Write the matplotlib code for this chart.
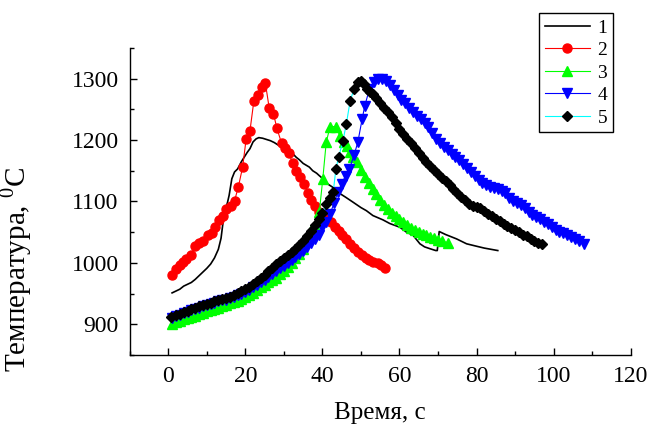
import matplotlib.pyplot as plt
from matplotlib.ticker import MultipleLocator

plt.rcParams['font.family'] = ['Liberation Serif', 'DejaVu Serif']
plt.rcParams['mathtext.fontset'] = 'custom'
plt.rcParams['mathtext.rm'] = 'Liberation Serif'

# кривая 1 - сплошная линия
t1 = [1, 2, 3, 4, 5, 6, 7, 8, 9, 10, 11, 12, 13, 13.7, 14.2, 14.8, 15.4, 15.8,
      16.5, 17.2, 18, 19, 19.7, 20.5, 21.2, 22, 22.8, 23.5, 24.5, 25.5, 26.5,
      27.5, 28.5, 29.7, 31, 32.3, 33.2, 34, 35, 36.6, 37.5, 38.5, 39.2, 40.5,
      41.5, 42.7, 44.5, 46, 47.9, 50, 51.4, 53.1, 55.7, 57.5, 60.1, 61.8,
      63.5, 65.3, 66.5, 67.9, 69.4, 69.8, 70.3, 72, 74.8, 77.4, 80, 82, 85.5]
T1 = [951, 954, 957, 962, 965, 968, 973, 979, 985, 991, 998, 1008, 1022, 1040,
      1065, 1085, 1099, 1110, 1137, 1148, 1153, 1165, 1172, 1180, 1186, 1197,
      1202, 1204, 1203, 1201, 1199, 1196, 1192, 1188, 1183, 1178, 1172, 1168,
      1162, 1156, 1150, 1146, 1142, 1135, 1128, 1123, 1113, 1107, 1099, 1090,
      1085, 1077, 1070, 1064, 1058, 1050, 1045, 1031, 1026, 1023, 1020, 1020,
      1051, 1046, 1039, 1031, 1027, 1024, 1020]

# кривая 2
t2 = [1.0, 1.9, 3.0, 3.8, 4.7, 5.8, 7.0, 8.0, 9.0, 10.2, 11.3, 12.2, 13.2,
      14.1, 15.0, 16.2, 17.2, 18.2, 19.3, 20.2, 21.2, 22.2, 23.2, 24.2, 25.2,
      26.2, 27.3, 28.2, 29.4, 30.3, 31.3, 32.3, 33.2, 34.3, 35.3, 36.3, 37.1,
      38.2, 39.2, 40.2, 41.2, 42.2, 43.2, 44.2, 45.2, 46.2, 47.2, 48.2, 49.2,
      50.2, 51.2, 52.2, 53.2, 54.3, 55.3, 56.3]
T2 = [980, 990, 997, 1002, 1007, 1012, 1028, 1033, 1036, 1046, 1048, 1058,
      1069, 1077, 1088, 1093, 1101, 1124, 1156, 1201, 1215, 1263, 1274, 1286,
      1293, 1252, 1243, 1219, 1195, 1187, 1179, 1162, 1149, 1140, 1129, 1113,
      1102, 1093, 1083, 1078, 1072, 1066, 1058, 1052, 1045, 1038, 1031, 1024,
      1017, 1012, 1008, 1004, 1001, 999, 996, 992]

# кривая 3
t3 = [1, 2, 3, 4, 5, 6, 7, 8, 9, 10, 11, 12, 13, 14, 15, 16, 17, 18, 19, 20,
      21, 22, 23, 24, 25, 26, 27, 28, 29, 30, 31, 32, 33, 34, 35, 36, 37, 38,
      39.2, 40.1, 41, 42, 43.5, 44.5, 45.5, 46.3, 47.2, 48, 49, 50, 51, 52, 53,
      54, 55, 56, 57, 58, 59, 60, 61, 62, 63, 64, 65, 66, 67, 68, 69, 70, 71,
      72.5]
T3 = [900, 903, 906, 908, 910, 912, 914, 916, 918, 921, 923, 925, 927, 930,
      932, 934, 936, 938, 941, 944, 947, 951, 955, 960, 964, 968, 972, 976, 981,
      987, 993, 1000, 1008, 1015, 1023, 1035, 1053, 1060, 1083, 1137, 1197,
      1222, 1222, 1207, 1197, 1190, 1180, 1173, 1164, 1152, 1140, 1130, 1121,
      1112, 1103, 1095, 1088, 1081, 1076, 1071, 1066, 1062, 1057, 1053, 1050,
      1047, 1045, 1042, 1040, 1037, 1035, 1033]

# кривая 4
t4 = [1, 2, 3, 4, 5, 6, 7, 8, 9, 10, 11, 12, 13, 14, 15, 16, 17, 18, 19, 20,
      21, 22, 23, 24, 25, 26, 27, 28, 29, 30, 31, 32, 33, 34, 35, 36, 37, 38,
      39, 40, 41, 42, 43, 44, 45, 46, 47, 48.2, 49.2, 50.3, 51, 52.2, 53.4,
      54.5, 55.5, 56.5, 57.5, 58.5, 59.5, 60.5, 61.5, 62.5, 63.5, 64.5, 65.5,
      66.5, 67.5, 68.5, 69.5, 70.5, 71.5, 72.5, 73.5, 74.5, 75.5, 76.5, 77.5,
      78.5, 79.5, 80.5, 81.5, 82.5, 83.5, 84.5, 85.5, 86.5, 87.5, 88.5, 89.5,
      90.5, 91.5, 92.5, 93.5, 94.5, 95.5, 96.5, 97.5, 98.5, 99.5, 100.5, 101.5,
      102.5, 103.5, 104.5, 105.5, 106.5, 107.8]
T4 = [910, 913, 915, 918, 920, 923, 925, 927, 929, 931, 933, 935, 937, 939,
      940, 942, 944, 947, 950, 953, 956, 960, 964, 968, 972, 977, 982, 987, 991,
      995, 999, 1004, 1009, 1014, 1020, 1025, 1032, 1038, 1046, 1058, 1066,
      1080, 1097, 1115, 1129, 1142, 1153, 1175, 1197, 1234, 1256, 1283, 1294,
      1300, 1300, 1296, 1289, 1281, 1274, 1266, 1260, 1253, 1246, 1240, 1234,
      1228, 1221, 1211, 1202, 1195, 1189, 1184, 1178, 1173, 1167, 1161, 1155,
      1148, 1141, 1135, 1130, 1126, 1124, 1122, 1120, 1117, 1113, 1106, 1100,
      1097, 1095, 1090, 1083, 1078, 1074, 1071, 1067, 1063, 1058, 1054, 1051,
      1048, 1045, 1042, 1038, 1035, 1030]

# кривая 5
t5 = [0.7, 2, 3, 4, 5, 6, 7, 8, 9, 10, 11, 12, 13, 14, 15, 16, 17, 18, 19, 20,
      21, 22, 23, 24, 25, 26, 27, 28, 29, 30, 31, 32, 33, 34, 35, 36, 37, 38,
      39, 40, 41, 42, 42.8, 43.5, 44.2, 45.3, 46.2, 47.2, 48.2, 49.2, 50,
      50.8, 51.6, 52.4, 53, 54, 55, 56, 57, 58, 59, 60, 61, 62, 63, 64, 65, 66,
      67, 68, 69, 70, 71, 72, 73, 74, 75, 76, 77, 78, 79, 80, 81, 82, 83, 84,
      85, 86, 87, 88, 89, 90, 91, 92, 93, 94, 95, 96, 97]
T5 = [912, 915, 917, 920, 922, 925, 927, 929, 931, 933, 935, 937, 939, 941,
      943, 945, 948, 951, 954, 957, 961, 966, 971, 975, 980, 986, 992, 998,
      1003, 1008, 1013, 1018, 1023, 1029, 1036, 1043, 1052, 1062, 1072, 1081,
      1096, 1105, 1115, 1153, 1172, 1198, 1226, 1264, 1283, 1294, 1296, 1292,
      1284, 1278, 1275, 1268, 1260, 1252, 1245, 1237, 1228, 1218, 1210, 1202,
      1195, 1187, 1179, 1171, 1164, 1158, 1151, 1145, 1139, 1133, 1126, 1120,
      1113, 1108, 1102, 1096, 1093, 1091, 1089, 1085, 1080, 1076, 1072, 1068,
      1064, 1060, 1057, 1053, 1050, 1046, 1043, 1039, 1036, 1033, 1031]

fig = plt.figure(figsize=(6.55, 4.25), dpi=100)
ax = fig.add_axes([0.198, 0.165, 0.765, 0.722])

ms = 6.5
ax.plot(t1, T1, color='black', lw=1.2, label='1')
ax.plot(t2, T2, color='red', lw=0.8, marker='o', ms=ms, mec='red', label='2')
ax.plot(t3, T3, color='#00ff00', lw=0.8, marker='^', ms=ms, mec='#00ff00', label='3')
ax.plot(t4, T4, color='blue', lw=0.8, marker='v', ms=ms, mec='blue', label='4')
ax.plot(t5, T5, color='cyan', lw=0.8, marker='D', ms=5.5, mfc='black', mec='black', label='5')

ax.set_xlim(-10, 120)
ax.set_ylim(850, 1350)
ax.xaxis.set_major_locator(MultipleLocator(20))
ax.xaxis.set_minor_locator(MultipleLocator(10))
ax.yaxis.set_major_locator(MultipleLocator(100))
ax.yaxis.set_minor_locator(MultipleLocator(50))

for s in ['top', 'right']:
    ax.spines[s].set_visible(False)
for s in ['left', 'bottom']:
    ax.spines[s].set_linewidth(1.0)
ax.tick_params(which='major', direction='in', length=5, width=1.0, labelsize=17, pad=8)
ax.tick_params(which='minor', direction='in', length=3, width=1.0)

ax.set_xlabel('Время, с', fontsize=18)
ax.xaxis.set_label_coords(0.5, -0.155)
ax.set_ylabel('Температура, $^0$C', fontsize=21)
ax.yaxis.set_label_coords(-0.19, 0.28)

leg = ax.legend(loc='upper left', bbox_to_anchor=(0.823, 0.969),
                bbox_transform=fig.transFigure, borderaxespad=0,
                fontsize=14, handlelength=2.3, handletextpad=0.4,
                borderpad=0.3, labelspacing=0.25, fancybox=False, framealpha=1)
leg.get_frame().set_edgecolor('black')
leg.get_frame().set_linewidth(1.0)

fig.savefig('out.png', dpi=100)
